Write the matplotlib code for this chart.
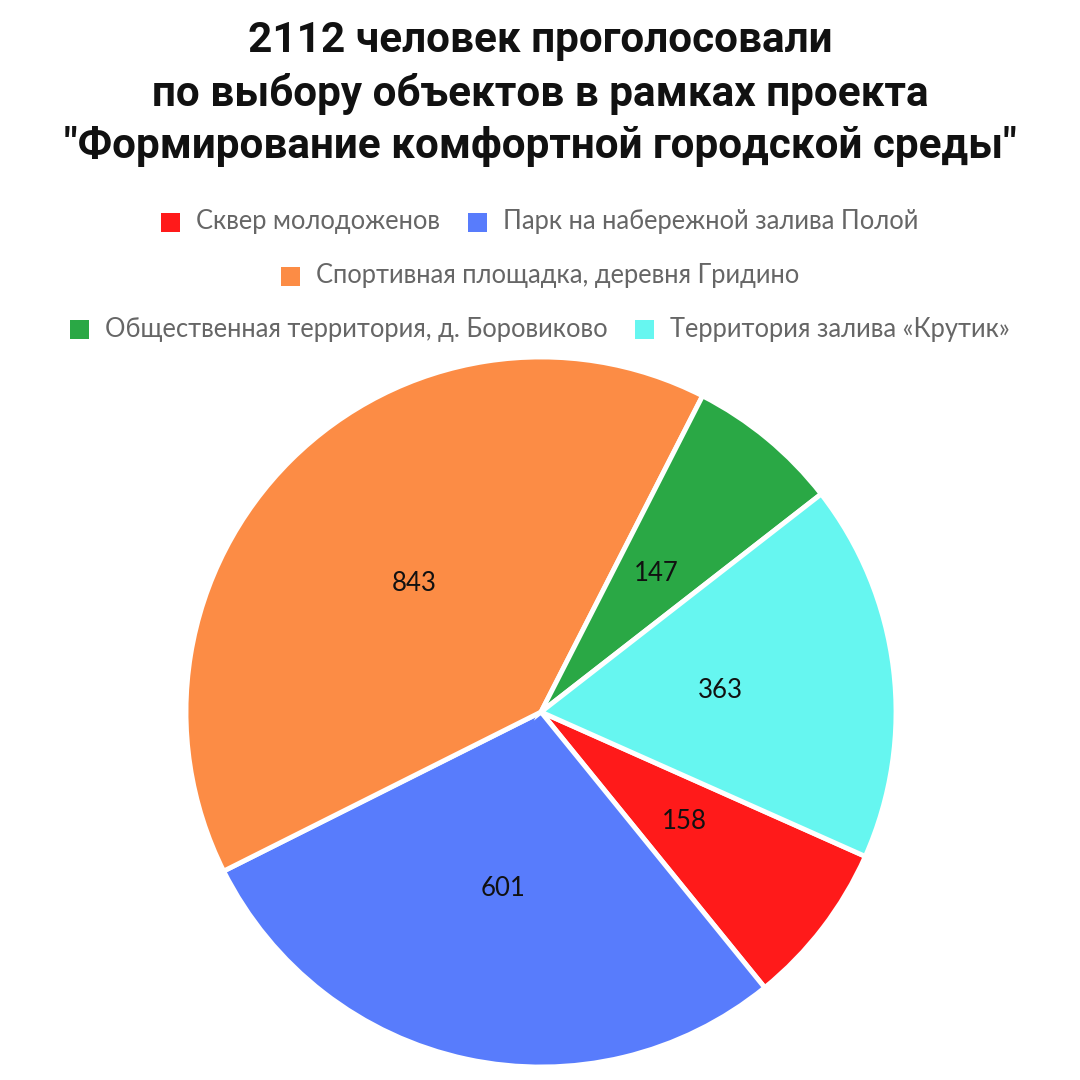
import matplotlib
matplotlib.use("Agg")
import matplotlib.pyplot as plt
from matplotlib.patches import Rectangle

categories = ["Сквер молодоженов", "Парк на набережной залива Полой",
              "Спортивная площадка, деревня Гридино",
              "Общественная территория, д. Боровиково", "Территория залива «Крутик»"]
values = [158, 601, 843, 147, 363]
colors = ["#ff1a1a", "#587cfc", "#fc8c45", "#2aa845", "#66f6f0"]
title = "2112 человек проголосовали\nпо выбору объектов в рамках проекта\n\"Формирование комфортной городской среды\""
legend_rows = [[0, 1], [2], [3, 4]]

W = H = 1080
fig = plt.figure(figsize=(10.8, 10.8), dpi=100)
fig.patch.set_facecolor("white")

fig.text(0.5, 1 - 20 / H, title, ha="center", va="top", fontsize=30.4, fontweight="bold",
         family="Roboto", linespacing=1.36, color="#111111")

# pie
cx, cy, r = 541, 712, 355
ax = fig.add_axes([(cx - r) / W, (H - cy - r) / H, 2 * r / W, 2 * r / H])
wedges, texts = ax.pie(values, colors=colors, startangle=-24, counterclock=False,
                       labels=[str(v) for v in values], labeldistance=0.508,
                       wedgeprops=dict(edgecolor="white", linewidth=3.5),
                       textprops=dict(fontsize=18.5, family="Lato", color="#111111",
                                      ha="center", va="center"))
for t in texts:
    t.set_ha("center"); t.set_va("center")
ax.set_xlim(-1.0, 1.0); ax.set_ylim(-1.0, 1.0)
ax.set_aspect("equal")
ax.axis("off")

# legend (manual, centered rows)
fig.canvas.draw()
renderer = fig.canvas.get_renderer()
row_y = [222, 276, 329]
sq = 19
gap_sq = 16
gap_item = 28
for ry, row in zip(row_y, legend_rows):
    widths = []
    tobjs = []
    for i in row:
        t = fig.text(0, 0, categories[i], fontsize=18.4, family="Lato", color="#666666",
                     ha="left", va="center")
        bb = t.get_window_extent(renderer)
        widths.append(bb.width)
        tobjs.append(t)
    total = sum(sq + gap_sq + w for w in widths) + gap_item * (len(row) - 1)
    x = (W - total) / 2
    for i, t, w in zip(row, tobjs, widths):
        fig.patches.append(Rectangle((x / W, (H - ry - sq / 2) / H), sq / W, sq / H,
                                     transform=fig.transFigure, facecolor=colors[i],
                                     edgecolor="none"))
        t.set_position(((x + sq + gap_sq) / W, (H - ry) / H))
        x += sq + gap_sq + w + gap_item

fig.savefig("out.png", dpi=100)
